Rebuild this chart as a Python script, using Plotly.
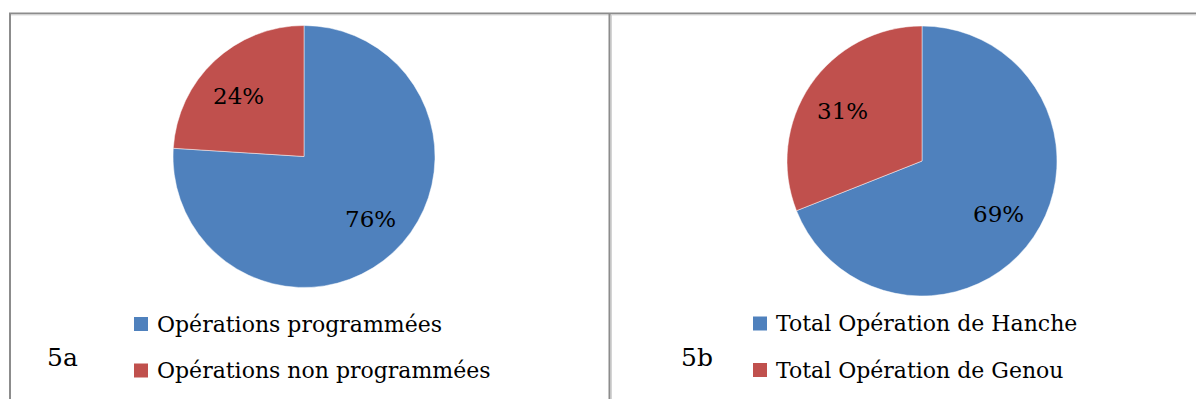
import math
import plotly.graph_objects as go

W, H = 1196, 399

# Data
labels_a = ["Opérations programmées", "Opérations non programmées"]
values_a = [76, 24]
labels_b = ["Total Opération de Hanche", "Total Opération de Genou"]
values_b = [69, 31]
panel_names = ["5a", "5b"]

colors = ["#4F81BD", "#C0504D"]
FONT = "DejaVu Serif"
BORDER = "#8c8c8c"


def px(x):
    return x / W


def py(y):
    return 1 - y / H


# Pie geometry per panel (pixels): centre x, centre y, radius,
# plus radial fraction / angular nudge for each percentage label
pies = [
    dict(cx=304, cy=156.5, r=131, labels=labels_a, values=values_a,
         lab_r=[0.70, 0.68], lab_da=[-3.6, -4.3]),
    dict(cx=922, cy=161, r=135, labels=labels_b, values=values_b,
         lab_r=[0.69, 0.70], lab_da=[0.7, -2.0]),
]

fig = go.Figure()
annotations = []
shapes = []

for p in pies:
    fig.add_trace(go.Pie(
        labels=p["labels"], values=p["values"],
        marker=dict(colors=colors, line=dict(color="rgba(255,255,255,0.6)", width=0.8)),
        sort=False, direction="clockwise", rotation=0,
        textinfo="none", hoverinfo="label+percent", showlegend=False,
        domain=dict(x=[px(p["cx"] - p["r"]), px(p["cx"] + p["r"])],
                    y=[py(p["cy"] + p["r"]), py(p["cy"] - p["r"])]),
    ))
    total = sum(p["values"])
    start = 0.0
    for i, v in enumerate(p["values"]):
        span = 360.0 * v / total
        mid = math.radians(start + span / 2 + p["lab_da"][i])
        rr = p["r"] * p["lab_r"][i]
        lx = p["cx"] + rr * math.sin(mid)
        ly = p["cy"] - rr * math.cos(mid)
        annotations.append(dict(
            x=px(lx), y=py(ly), xref="paper", yref="paper",
            text=f"{round(100 * v / total)}%", showarrow=False,
            font=dict(family=FONT, size=23, color="#000000"),
            xanchor="center", yanchor="middle"))
        start += span

# Legends and panel names
legend_specs = [
    dict(sq_x=134, text_x=155, rows=[324, 370.5], labels=labels_a, name_x=45),
    dict(sq_x=753, text_x=774, rows=[323.5, 370], labels=labels_b, name_x=679),
]
for k, spec in enumerate(legend_specs):
    for i, lab in enumerate(spec["labels"]):
        yc = spec["rows"][i]
        shapes.append(dict(type="rect", xref="paper", yref="paper",
                           x0=px(spec["sq_x"]), x1=px(spec["sq_x"] + 14),
                           y0=py(yc + 7), y1=py(yc - 7),
                           fillcolor=colors[i], line=dict(width=0)))
        annotations.append(dict(
            x=px(spec["text_x"]), y=py(yc), xref="paper", yref="paper",
            text=lab, showarrow=False, xanchor="left", yanchor="middle",
            font=dict(family=FONT, size=22, color="#000000")))
    annotations.append(dict(
        x=px(spec["name_x"]), y=py(357), xref="paper", yref="paper",
        text=panel_names[k], showarrow=False, xanchor="left", yanchor="middle",
        font=dict(family=FONT, size=25, color="#000000")))

# Panel frame lines
shapes += [
    dict(type="line", xref="paper", yref="paper", x0=px(9), x1=1,
         y0=py(13.5), y1=py(13.5), line=dict(color=BORDER, width=2)),
    dict(type="line", xref="paper", yref="paper", x0=px(11), x1=1,
         y0=py(15), y1=py(15), line=dict(color="#dcdcdc", width=1)),
    dict(type="line", xref="paper", yref="paper", x0=px(10), x1=px(10),
         y0=py(13), y1=0, line=dict(color=BORDER, width=2)),
    dict(type="line", xref="paper", yref="paper", x0=px(609.5), x1=px(609.5),
         y0=py(13), y1=0, line=dict(color=BORDER, width=2)),
    dict(type="line", xref="paper", yref="paper", x0=px(611.5), x1=px(611.5),
         y0=py(15), y1=0, line=dict(color="#d4d4d4", width=1)),
]

fig.update_layout(
    width=W, height=H,
    margin=dict(l=0, r=0, t=0, b=0),
    paper_bgcolor="white", plot_bgcolor="white",
    annotations=annotations, shapes=shapes,
)

fig.write_html("out.html")
